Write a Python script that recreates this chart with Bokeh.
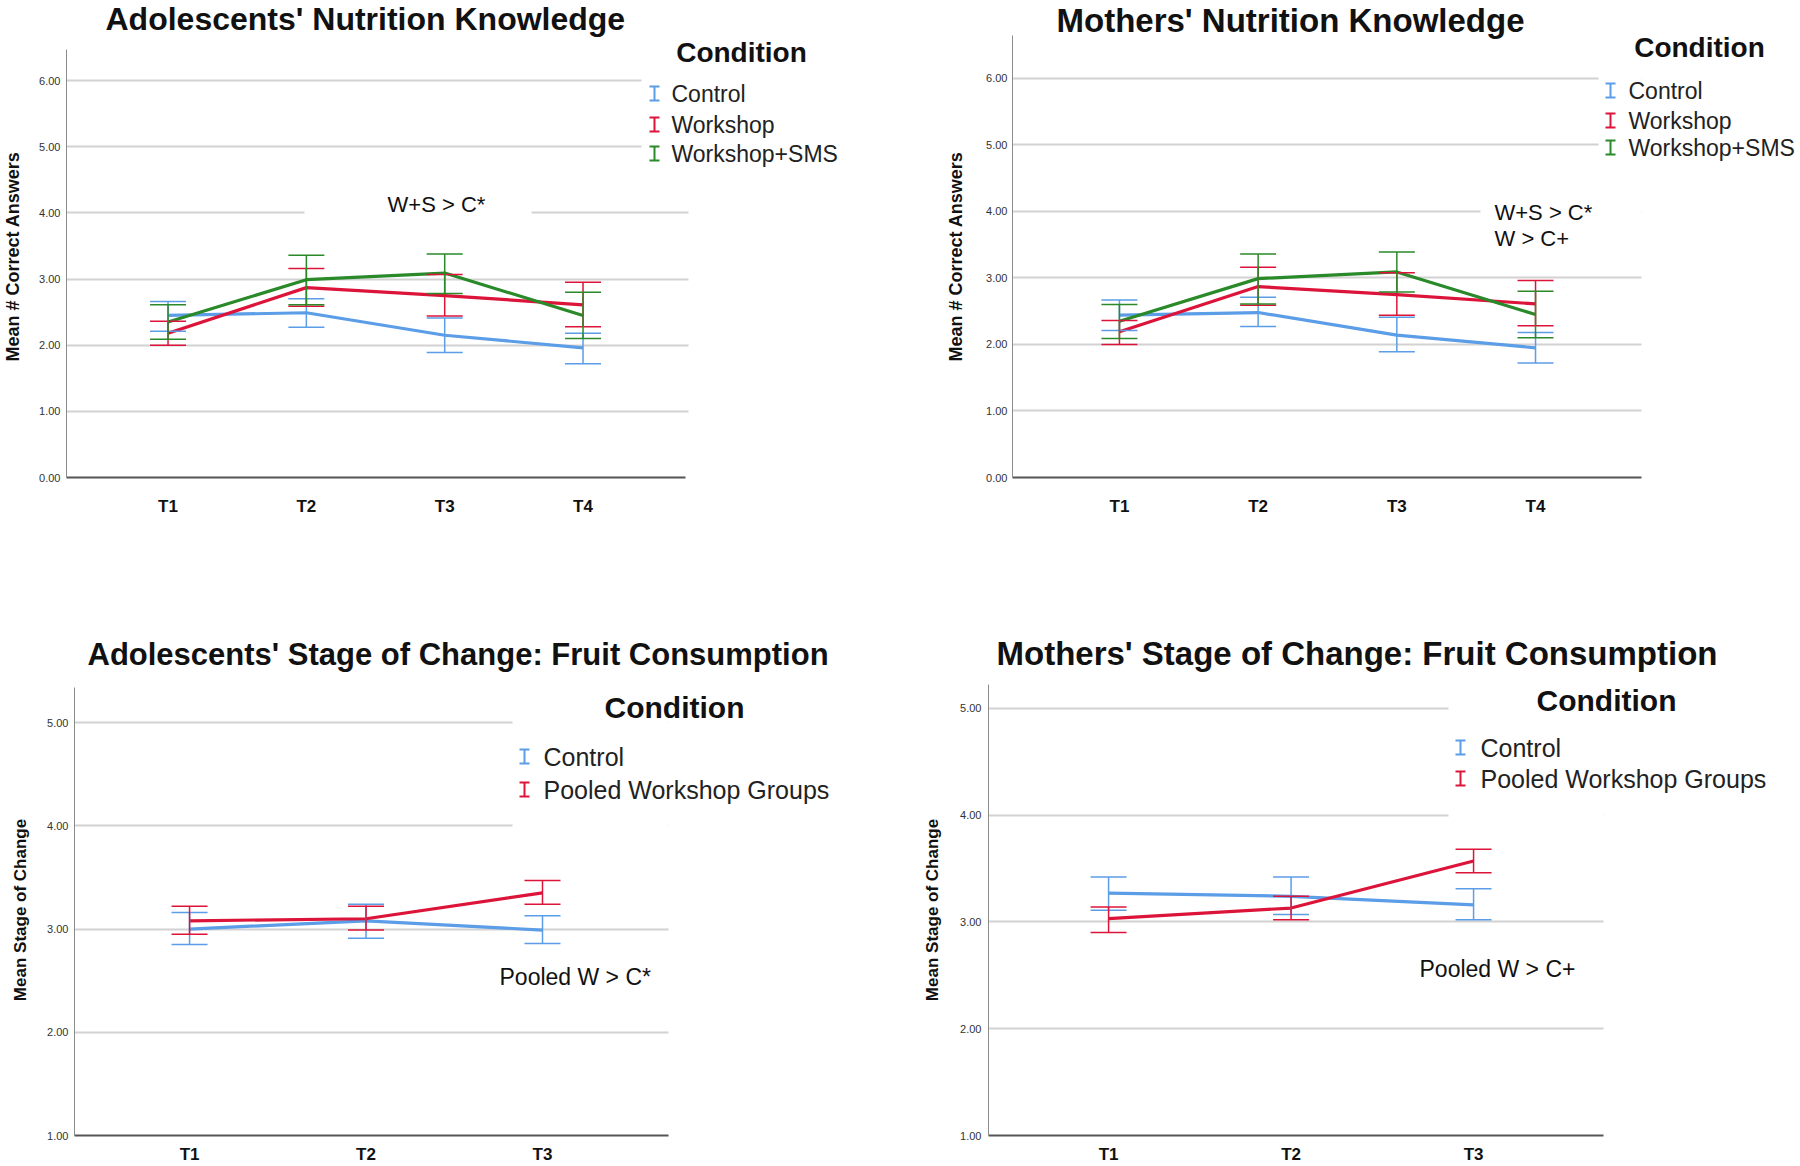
from bokeh.plotting import figure
from bokeh.models import (ColumnDataSource, Whisker, TeeHead, Label, BoxAnnotation,
                          FixedTicker, Range1d, Title)
from bokeh.layouts import row, column
from bokeh.embed import file_html
from bokeh.resources import INLINE

# ---------------- data ----------------
know_times = ["T1", "T2", "T3", "T4"]

adol_know_control_mean = [2.45, 2.49, 2.15, 1.96]
adol_know_control_low = [2.21, 2.27, 1.89, 1.72]
adol_know_control_high = [2.66, 2.70, 2.41, 2.18]
adol_know_workshop_mean = [2.18, 2.87, 2.75, 2.61]
adol_know_workshop_low = [2.00, 2.59, 2.44, 2.28]
adol_know_workshop_high = [2.36, 3.16, 3.07, 2.95]
adol_know_sms_mean = [2.35, 2.99, 3.09, 2.45]
adol_know_sms_low = [2.09, 2.61, 2.78, 2.10]
adol_know_sms_high = [2.61, 3.36, 3.38, 2.80]

moth_know_control_mean = [2.44, 2.48, 2.14, 1.95]
moth_know_control_low = [2.21, 2.27, 1.89, 1.72]
moth_know_control_high = [2.67, 2.71, 2.41, 2.18]
moth_know_workshop_mean = [2.19, 2.87, 2.75, 2.61]
moth_know_workshop_low = [2.00, 2.59, 2.44, 2.28]
moth_know_workshop_high = [2.36, 3.16, 3.08, 2.96]
moth_know_sms_mean = [2.35, 2.99, 3.09, 2.45]
moth_know_sms_low = [2.09, 2.61, 2.79, 2.10]
moth_know_sms_high = [2.60, 3.36, 3.39, 2.80]

stage_times = ["T1", "T2", "T3"]

adol_stage_control_mean = [3.00, 3.08, 2.99]
adol_stage_control_low = [2.85, 2.91, 2.86]
adol_stage_control_high = [3.16, 3.24, 3.13]
adol_stage_pooled_mean = [3.08, 3.10, 3.35]
adol_stage_pooled_low = [2.95, 2.99, 3.24]
adol_stage_pooled_high = [3.22, 3.22, 3.47]

moth_stage_control_mean = [3.27, 3.24, 3.16]
moth_stage_control_low = [3.11, 3.07, 3.02]
moth_stage_control_high = [3.42, 3.42, 3.31]
moth_stage_pooled_mean = [3.03, 3.13, 3.57]
moth_stage_pooled_low = [2.90, 3.02, 3.46]
moth_stage_pooled_high = [3.14, 3.24, 3.68]

know_yticks = [0, 1, 2, 3, 4, 5, 6]
stage_yticks = [1, 2, 3, 4, 5]

BLUE = "#5b9de6"
RED = "#dc1439"
GREEN = "#2a8a2a"
FONT = "Liberation Sans"


def make_panel(fig_x, fig_y, fig_w, fig_h, fl, ft, fb, axis_right, ypx, xr, yr, yticks,
               times, series, title, title_size, title_offset, title_standoff,
               ylabel, ylabel_size, ylab_standoff, ytick_standoff, xtick_standoff,
               texts, covers, legend_x, legend_tx, legend_ys, legend_size, cond_xy, cond_size):
    fig_r = fig_x + fig_w
    # the drawing area reaches the right edge of the figure so that the legend
    # is not clipped; the axis lines are limited with bounds.
    x_end = xr[0] + (fig_r - fl) * (xr[1] - xr[0]) / (axis_right - fl)
    y_end = yr[0] + (fb - ft) / ypx
    p = figure(width=fig_w, height=fig_h, output_backend="svg", toolbar_location=None,
               title=None, x_range=Range1d(xr[0], x_end), y_range=Range1d(yr[0], y_end),
               min_border_left=fl - fig_x, min_border_right=0,
               min_border_top=ft - fig_y, min_border_bottom=fig_y + fig_h - fb)
    p.outline_line_color = None
    p.background_fill_color = "white"
    p.border_fill_color = "white"
    p.xgrid.visible = False
    p.ygrid.ticker = FixedTicker(ticks=yticks)
    p.ygrid.grid_line_color = "#d2d2d2"
    p.ygrid.grid_line_width = 2

    p.add_layout(Title(text=title, align="left", offset=title_offset, standoff=title_standoff,
                       text_font=FONT, text_font_size=f"{title_size}px",
                       text_font_style="bold", text_color="#111111"), "above")

    xs = list(range(1, len(times) + 1))
    p.xaxis.ticker = FixedTicker(ticks=xs)
    p.xaxis.bounds = (xr[0], xr[1])
    p.xaxis.major_label_overrides = {x: t for x, t in zip(xs, times)}
    p.xaxis.major_label_text_font = FONT
    p.xaxis.major_label_text_font_style = "bold"
    p.xaxis.major_label_text_font_size = "17px"
    p.xaxis.major_label_text_color = "#111111"
    p.xaxis.major_label_standoff = xtick_standoff
    p.xaxis.axis_line_color = "#555555"
    p.xaxis.axis_line_width = 2

    p.yaxis.ticker = FixedTicker(ticks=yticks)
    p.yaxis.bounds = (yr[0], yr[1])
    p.yaxis.major_label_overrides = {v: f"{v:.2f}" for v in yticks}
    p.yaxis.major_label_text_font = FONT
    p.yaxis.major_label_text_font_size = "11px"
    p.yaxis.major_label_text_color = "#333333"
    p.yaxis.major_label_standoff = ytick_standoff
    p.yaxis.axis_line_color = "#8c8c8c"
    p.yaxis.axis_line_width = 1
    p.yaxis.axis_label = ylabel
    p.yaxis.axis_label_text_font = FONT
    p.yaxis.axis_label_text_font_style = "bold"
    p.yaxis.axis_label_text_font_size = f"{ylabel_size}px"
    p.yaxis.axis_label_text_color = "#111111"
    p.yaxis.axis_label_standoff = ylab_standoff
    for ax in (p.xaxis, p.yaxis):
        ax.major_tick_line_color = None
        ax.minor_tick_line_color = None
        ax.major_tick_out = 0
        ax.major_tick_in = 0

    def sx(X):
        return X - fl

    def sy(Y):
        return fb - Y

    # hide grid lines right of the axes box
    p.add_layout(BoxAnnotation(left=sx(axis_right), left_units="screen", level="underlay",
                               fill_color="white", fill_alpha=1.0, line_color=None))
    # white areas behind the legend and the annotations
    for (X0, X1, Y0, Y1) in covers:
        p.add_layout(BoxAnnotation(left=sx(X0), right=sx(X1), top=sy(Y0), bottom=sy(Y1),
                                   left_units="screen", right_units="screen",
                                   top_units="screen", bottom_units="screen",
                                   level="underlay",
                                   fill_color="white", fill_alpha=1.0, line_color=None))

    for (name, color, mean, low, high) in series:
        src = ColumnDataSource(dict(x=xs, mean=mean, low=low, high=high))
        w = Whisker(base="x", upper="high", lower="low", source=src, dimension="height",
                    line_color=color, line_width=1.5, level="glyph",
                    upper_head=TeeHead(size=36, line_color=color, line_width=1.5),
                    lower_head=TeeHead(size=36, line_color=color, line_width=1.5))
        p.add_layout(w)
    for (name, color, mean, low, high) in series:
        src = ColumnDataSource(dict(x=xs, mean=mean))
        p.line("x", "mean", source=src, line_color=color, line_width=3.2)

    for (X, Y, txt, size, align) in texts:
        p.add_layout(Label(x=sx(X), y=sy(Y), x_units="screen", y_units="screen", text=txt,
                           text_font=FONT, text_font_size=f"{size}px",
                           text_align=align, text_baseline="middle", text_color="#111111"))

    # legend
    p.add_layout(Label(x=sx(cond_xy[0]), y=sy(cond_xy[1]), x_units="screen", y_units="screen",
                       text="Condition", text_font=FONT, text_font_size=f"{cond_size}px",
                       text_font_style="bold", text_align="center", text_baseline="middle",
                       text_color="#111111"))
    for (name, color, mean, low, high), ly in zip(series, legend_ys):
        lsrc = ColumnDataSource(dict(b=[sx(legend_x)], u=[sy(ly - 7)], l=[sy(ly + 7)]))
        p.add_layout(Whisker(base="b", upper="u", lower="l", source=lsrc, dimension="height",
                             base_units="screen", upper_units="screen", lower_units="screen",
                             line_color=color, line_width=2,
                             upper_head=TeeHead(size=10, line_color=color, line_width=2),
                             lower_head=TeeHead(size=10, line_color=color, line_width=2)))
        p.add_layout(Label(x=sx(legend_tx), y=sy(ly), x_units="screen", y_units="screen",
                           text=name, text_font=FONT, text_font_size=f"{legend_size}px",
                           text_align="left", text_baseline="middle", text_color="#222222"))
    return p


p1 = make_panel(
    0, 0, 900, 600, 62, 33, 477, 684, (476 - 46) / 6.47, (0.266, 4.741), (0, 6.47),
    know_yticks, know_times,
    [("Control", BLUE, adol_know_control_mean, adol_know_control_low, adol_know_control_high),
     ("Workshop", RED, adol_know_workshop_mean, adol_know_workshop_low, adol_know_workshop_high),
     ("Workshop+SMS", GREEN, adol_know_sms_mean, adol_know_sms_low, adol_know_sms_high)],
    "Adolescents' Nutrition Knowledge", 32, 39, -3,
    "Mean # Correct Answers", 18, 13, 6, 19,
    [(432, 204, "W+S > C*", 22, "center")],
    [(300, 527, 200, 222), (637, 684, 33, 175)],
    650, 667, [93, 124, 153], 23, (737, 52), 28)

p2 = make_panel(
    900, 0, 900, 600, 1012, 33, 477, 1641, (478 - 33) / 6.66, (0.229, 4.764), (0, 6.66),
    know_yticks, know_times,
    [("Control", BLUE, moth_know_control_mean, moth_know_control_low, moth_know_control_high),
     ("Workshop", RED, moth_know_workshop_mean, moth_know_workshop_low, moth_know_workshop_high),
     ("Workshop+SMS", GREEN, moth_know_sms_mean, moth_know_sms_low, moth_know_sms_high)],
    "Mothers' Nutrition Knowledge", 33, 44, -7,
    "Mean # Correct Answers", 18, 17, 5, 19,
    [(1494, 212, "W+S > C*", 22, "left"),
     (1494, 238, "W > C+", 22, "left")],
    [(1480, 1641, 200, 222), (1598, 1641, 33, 175)],
    1610, 1628, [90, 120, 147], 23, (1699, 47), 28)

p3 = make_panel(
    0, 600, 900, 566, 74, 684, 1135, 668, (1133 - 685) / 4.34, (0.348, 3.714), (1, 5.34),
    stage_yticks, stage_times,
    [("Control", BLUE, adol_stage_control_mean, adol_stage_control_low, adol_stage_control_high),
     ("Pooled Workshop Groups", RED, adol_stage_pooled_mean, adol_stage_pooled_low,
      adol_stage_pooled_high)],
    "Adolescents' Stage of Change: Fruit Consumption", 31, 13, 26,
    "Mean Stage of Change", 17, 14, 6, 9,
    [(499, 976, "Pooled W > C*", 23, "left")],
    [(512, 668, 684, 840)],
    524, 543, [756, 789], 25, (674, 707), 30)

p4 = make_panel(
    900, 600, 900, 566, 988, 684, 1135, 1603, (1138 - 682) / 4.27, (0.342, 3.712), (1, 5.27),
    stage_yticks, stage_times,
    [("Control", BLUE, moth_stage_control_mean, moth_stage_control_low, moth_stage_control_high),
     ("Pooled Workshop Groups", RED, moth_stage_pooled_mean, moth_stage_pooled_low,
      moth_stage_pooled_high)],
    "Mothers' Stage of Change: Fruit Consumption", 33, 8, 26,
    "Mean Stage of Change", 17, 15, 7, 9,
    [(1419, 968, "Pooled W > C+", 23, "left")],
    [(1448, 1603, 684, 835)],
    1460, 1480, [747, 778], 25, (1606, 700), 30)

layout = column(row(p1, p2), row(p3, p4))
open("out.html", "w").write(file_html(layout, INLINE))
